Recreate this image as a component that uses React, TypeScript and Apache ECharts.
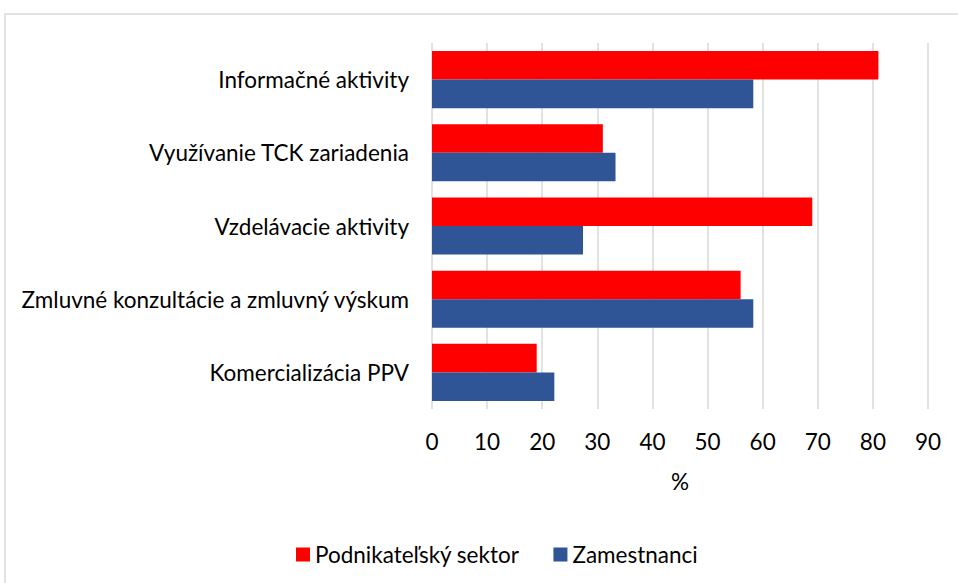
import React, { useEffect, useRef } from "react";
import * as echarts from "echarts";

const categories = [
  "Informačné aktivity",
  "Využívanie TCK zariadenia",
  "Vzdelávacie aktivity",
  "Zmluvné konzultácie a zmluvný výskum",
  "Komercializácia PPV",
];
const podnikatelskySektor = [81, 31, 69, 56, 19];
const zamestnanci = [58.3, 33.3, 27.4, 58.3, 22.2];
const seriesNames = ["Podnikateľský sektor", "Zamestnanci"];
const axisName = "%";

const FONT = "Lato";
const FS = 22.5;

export default function App() {
  const ref = useRef<HTMLDivElement>(null);
  useEffect(() => {
    const chart = echarts.init(ref.current!, null, { renderer: "svg" });
    chart.setOption({
      animation: false,
      textStyle: { fontFamily: FONT, color: "#000" },
      graphic: [
        {
          type: "rect",
          shape: { x: 5, y: 14, width: 970, height: 600 },
          style: { fill: "none", stroke: "#d9d9d9", lineWidth: 1.5 },
          silent: true,
        },
      ],
      grid: { left: 432, right: 30, top: 43, bottom: 174, containLabel: false },
      legend: {
        left: 291,
        top: 538,
        itemWidth: 14,
        itemHeight: 14,
        itemGap: 34,
        icon: "rect",
        textStyle: { fontFamily: FONT, fontSize: FS, color: "#000" },
        data: seriesNames,
      },
      xAxis: {
        type: "value",
        min: 0,
        max: 90,
        interval: 10,
        name: axisName,
        nameLocation: "middle",
        nameGap: 61,
        nameTextStyle: { fontFamily: FONT, fontSize: FS, color: "#000" },
        axisLine: { show: false },
        axisTick: { show: false },
        axisLabel: { fontFamily: FONT, fontSize: FS, color: "#000", margin: 21 },
        splitLine: { show: true, lineStyle: { color: "#d9d9d9", width: 1.5 } },
      },
      yAxis: {
        type: "category",
        inverse: true,
        data: categories,
        axisLine: { show: false },
        axisTick: { show: false },
        axisLabel: { fontFamily: FONT, fontSize: FS, color: "#000", margin: 23 },
        splitLine: { show: false },
      },
      series: [
        {
          name: seriesNames[0],
          type: "bar",
          data: podnikatelskySektor,
          itemStyle: { color: "#ff0000" },
          barGap: "0%",
          barCategoryGap: "22%",
        },
        {
          name: seriesNames[1],
          type: "bar",
          data: zamestnanci,
          itemStyle: { color: "#2f5597" },
          barGap: "0%",
          barCategoryGap: "22%",
        },
      ],
    });
    return () => chart.dispose();
  }, []);
  return <div ref={ref} style={{ width: 958, height: 583, position: "absolute", left: 0, top: 0 }} />;
}
